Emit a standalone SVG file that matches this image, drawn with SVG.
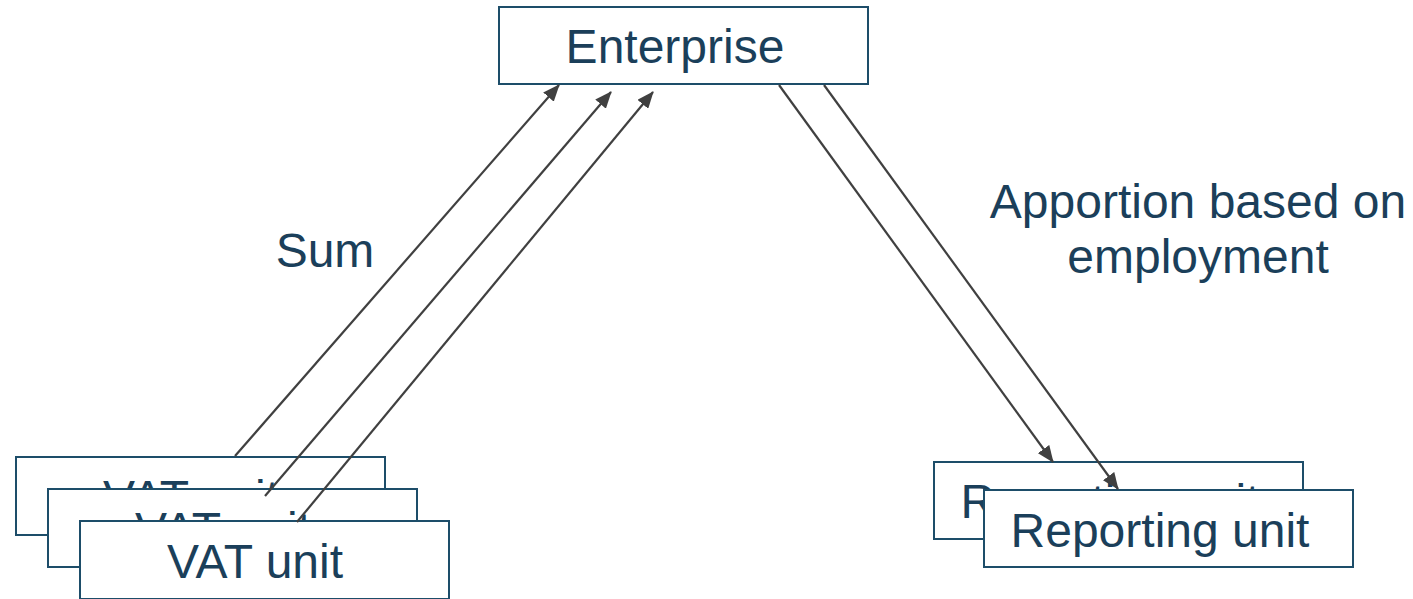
<svg xmlns="http://www.w3.org/2000/svg" width="1413" height="599" viewBox="0 0 1413 599">
  <style>
    .box { fill: #ffffff; stroke: #1d4d69; stroke-width: 2; }
    .lbl { font-family: "Liberation Sans", Arial, sans-serif; font-size: 48px; fill: #1b3f5a; text-anchor: middle; }
    .edge { stroke: #404040; stroke-width: 2.2; fill: none; marker-end: url(#arrow); }
  </style>
  <defs>
    <marker id="arrow" markerUnits="userSpaceOnUse" markerWidth="18" markerHeight="14" refX="16" refY="7" orient="auto">
      <path d="M0,0 L17,7 L0,14 Z" fill="#404040"/>
    </marker>
  </defs>
  <rect width="1413" height="599" fill="#ffffff"/>

  <g id="enterprise">
    <rect class="box" x="499" y="7" width="369" height="77"/>
    <text class="lbl" x="675" y="63">Enterprise</text>
  </g>

  <!-- stacked VAT units, back to front -->
  <g id="vat-unit-1">
    <rect class="box" x="16" y="457" width="369" height="78"/>
    <text class="lbl" x="191" y="514">VAT unit</text>
  </g>
  <g id="vat-unit-2">
    <rect class="box" x="48" y="489" width="369" height="78"/>
    <text class="lbl" x="223" y="546">VAT unit</text>
  </g>
  <g id="vat-unit-3">
    <rect class="box" x="80" y="521" width="369" height="78"/>
    <text class="lbl" x="255" y="578">VAT unit</text>
  </g>

  <!-- stacked reporting units, back to front -->
  <g id="reporting-unit-1">
    <rect class="box" x="934" y="462" width="369" height="77"/>
    <text class="lbl" x="1110" y="518">Reporting unit</text>
  </g>
  <g id="reporting-unit-2">
    <rect class="box" x="984" y="490" width="369" height="77"/>
    <text class="lbl" x="1160" y="547">Reporting unit</text>
  </g>

  <g id="connectors">
    <line class="edge" x1="235" y1="456" x2="559" y2="85"/>
    <line class="edge" x1="265" y1="496" x2="611" y2="92"/>
    <line class="edge" x1="297" y1="522" x2="653" y2="92"/>
    <line class="edge" x1="779" y1="85" x2="1053" y2="462"/>
    <line class="edge" x1="824" y1="85" x2="1118" y2="489"/>
  </g>

  <g id="labels">
    <text class="lbl" x="325" y="267">Sum</text>
    <text class="lbl" x="1198" y="218">Apportion based on</text>
    <text class="lbl" x="1198" y="273">employment</text>
  </g>
</svg>
